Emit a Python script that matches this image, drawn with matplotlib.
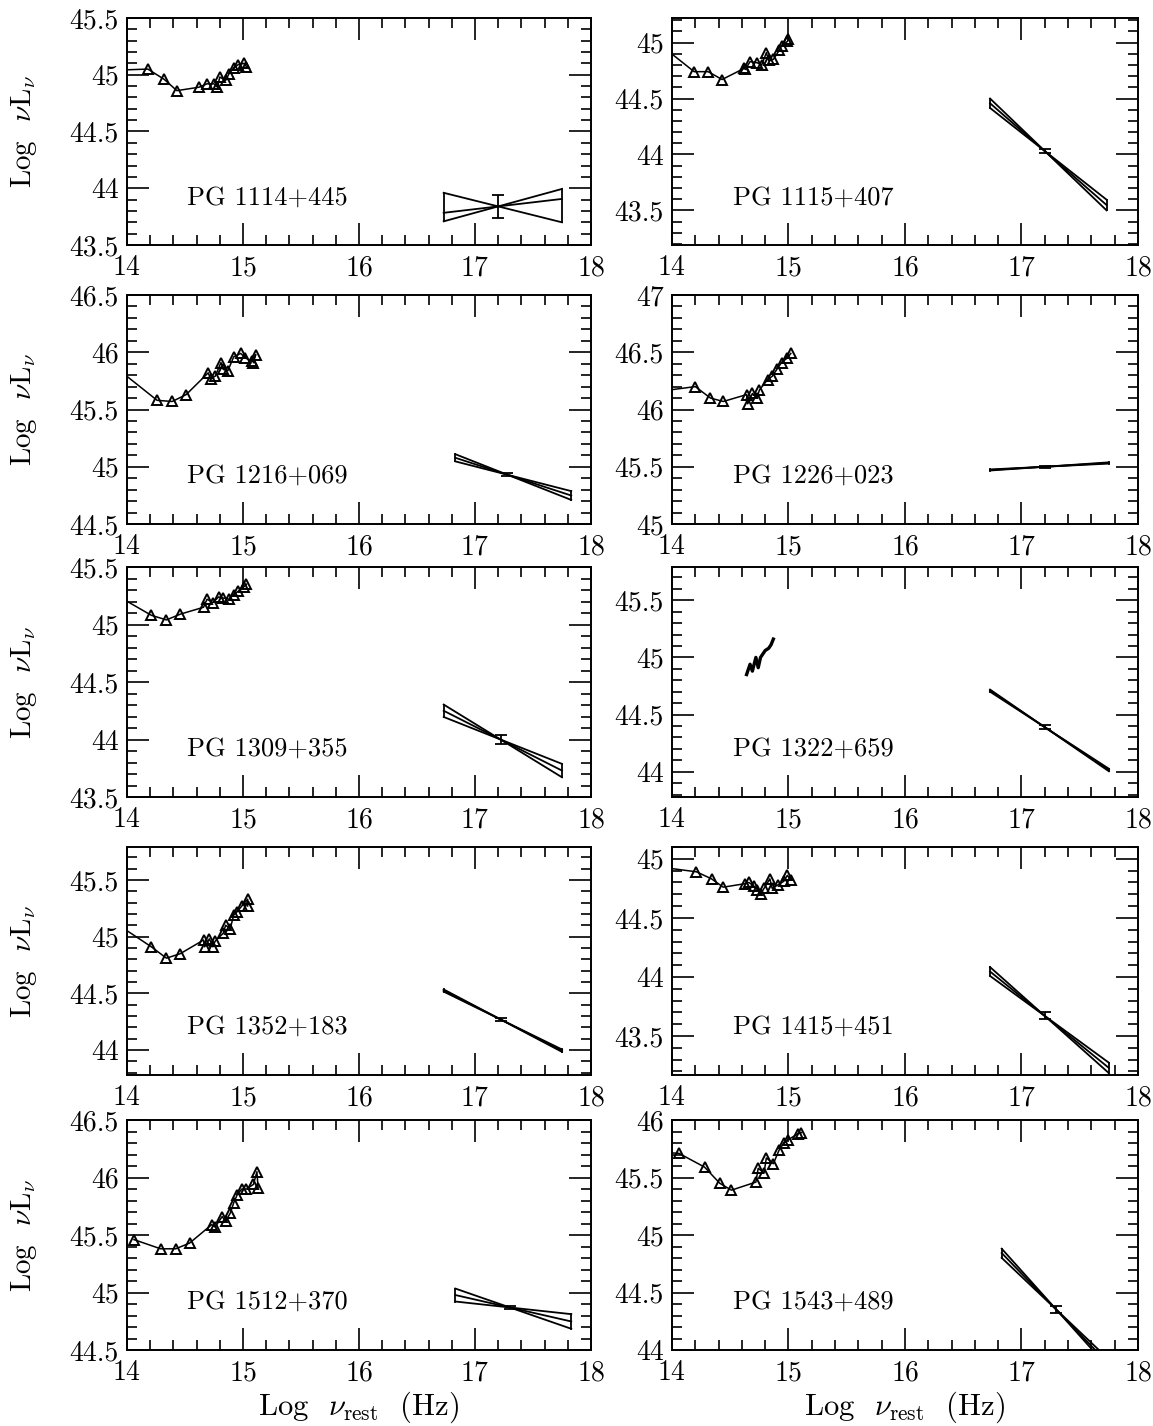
import numpy as np
import matplotlib
matplotlib.use("Agg")
import matplotlib.pyplot as plt
from matplotlib.ticker import MultipleLocator, FormatStrFormatter

plt.rcParams['font.family'] = ['cmr10', 'DejaVu Serif']
plt.rcParams['mathtext.fontset'] = 'cm'
plt.rcParams['axes.formatter.use_mathtext'] = True

# object names, row by row (left, right)
names = ["PG 1114+445", "PG 1115+407", "PG 1216+069", "PG 1226+023",
         "PG 1309+355", "PG 1322+659", "PG 1352+183", "PG 1415+451",
         "PG 1512+370", "PG 1543+489"]

ylims = [(43.5, 45.5), (43.19, 45.22), (44.5, 46.5), (45.0, 47.0),
         (43.5, 45.5), (43.78, 45.79), (43.78, 45.79), (43.17, 45.1),
         (44.5, 46.5), (44.0, 46.0)]

# optical / IR SED points (log nu, log nuLnu)
sed_x = [
    [13.9, 14.18, 14.32, 14.43, 14.62, 14.69, 14.75, 14.78, 14.80, 14.85, 14.88, 14.92, 14.96, 15.01, 15.03],
    [13.9, 14.19, 14.31, 14.43, 14.62, 14.63, 14.67, 14.73, 14.77, 14.81, 14.83, 14.87, 14.92, 14.94, 14.99, 15.0],
    [13.9, 14.26, 14.39, 14.51, 14.70, 14.72, 14.76, 14.81, 14.83, 14.87, 14.92, 14.98, 15.02, 15.08, 15.11, 15.09],
    [13.9, 14.20, 14.33, 14.44, 14.64, 14.65, 14.69, 14.73, 14.75, 14.82, 14.86, 14.90, 14.94, 14.99, 15.02],
    [13.9, 14.21, 14.34, 14.46, 14.66, 14.69, 14.74, 14.79, 14.83, 14.88, 14.92, 14.96, 15.01, 15.03],
    [14.64, 14.67, 14.69, 14.72, 14.74, 14.76, 14.78, 14.80, 14.83, 14.85, 14.87],
    [13.9, 14.21, 14.34, 14.46, 14.66, 14.67, 14.71, 14.74, 14.76, 14.83, 14.85, 14.89, 14.92, 14.95, 14.99, 15.04, 15.04],
    [13.9, 14.21, 14.34, 14.44, 14.63, 14.66, 14.70, 14.73, 14.76, 14.79, 14.84, 14.86, 14.91, 14.96, 14.99, 15.02],
    [14.06, 14.29, 14.42, 14.54, 14.73, 14.76, 14.82, 14.85, 14.89, 14.92, 14.95, 14.99, 15.03, 15.09, 15.12, 15.13],
    [13.9, 14.06, 14.28, 14.41, 14.51, 14.72, 14.74, 14.79, 14.81, 14.87, 14.92, 14.96, 15.0, 15.08, 15.11],
]
sed_y = [
    [45.04, 45.05, 44.96, 44.86, 44.89, 44.92, 44.92, 44.89, 44.98, 44.95, 45.01, 45.06, 45.09, 45.10, 45.07],
    [44.98, 44.74, 44.74, 44.67, 44.77, 44.76, 44.83, 44.82, 44.80, 44.91, 44.84, 44.85, 44.93, 44.97, 45.01, 45.03],
    [45.87, 45.58, 45.57, 45.63, 45.82, 45.77, 45.79, 45.91, 45.85, 45.84, 45.96, 45.99, 45.95, 45.92, 45.98, 45.91],
    [46.16, 46.20, 46.10, 46.07, 46.13, 46.05, 46.14, 46.10, 46.17, 46.26, 46.29, 46.35, 46.41, 46.45, 46.49],
    [45.26, 45.08, 45.04, 45.09, 45.15, 45.22, 45.19, 45.24, 45.23, 45.22, 45.26, 45.29, 45.33, 45.35],
    [44.85, 44.94, 44.88, 45.00, 44.91, 45.00, 45.03, 45.06, 45.08, 45.11, 45.16],
    [45.12, 44.91, 44.81, 44.85, 44.97, 44.91, 44.98, 44.91, 44.96, 45.03, 45.10, 45.07, 45.19, 45.22, 45.27, 45.33, 45.27],
    [44.93, 44.89, 44.83, 44.76, 44.79, 44.80, 44.77, 44.74, 44.70, 44.75, 44.83, 44.75, 44.78, 44.81, 44.86, 44.82],
    [45.46, 45.38, 45.38, 45.43, 45.59, 45.57, 45.66, 45.62, 45.69, 45.78, 45.85, 45.90, 45.90, 45.94, 46.05, 45.91],
    [45.72, 45.71, 45.59, 45.45, 45.39, 45.46, 45.58, 45.54, 45.67, 45.62, 45.74, 45.80, 45.83, 45.88, 45.89],
]

# X-ray power law bow-ties: range, pivot, best slope and slope limits, pivot error
bt_x0 = [16.73, 16.73, 16.83, 16.73, 16.73, 16.73, 16.73, 16.73, 16.83, 16.83]
bt_x1 = [17.75, 17.73, 17.83, 17.75, 17.75, 17.75, 17.75, 17.75, 17.83, 17.83]
piv_x = [17.20, 17.20, 17.28, 17.20, 17.22, 17.20, 17.22, 17.20, 17.30, 17.30]
piv_y = [43.84, 44.03, 44.93, 45.50, 44.00, 44.39, 44.27, 43.67, 44.87, 44.35]
slope = [0.12, -0.91, -0.33, 0.06, -0.51, -0.68, -0.52, -0.80, -0.23, -1.05]
slope_lo = [-0.255, -1.00, -0.40, 0.05, -0.62, -0.70, -0.54, -0.88, -0.35, -1.13]
slope_hi = [0.28, -0.82, -0.26, 0.07, -0.40, -0.66, -0.50, -0.72, -0.11, -0.96]
piv_err = [0.10, 0.02, 0.015, 0.01, 0.04, 0.02, 0.015, 0.03, 0.015, 0.03]

fig = plt.figure(figsize=(11.53, 14.26), dpi=100)
W, H = 1153.0, 1426.0
col_left = [127, 672]
col_w = [464, 466]
row_top = [18, 295, 567, 847, 1120]
row_h = [227, 229, 230, 228, 230]

lw = 1.3
for i in range(10):
    r, c = i // 2, i % 2
    ax = fig.add_axes([col_left[c] / W, 1 - (row_top[r] + row_h[r]) / H,
                       col_w[c] / W, row_h[r] / H])
    ax.plot(sed_x[i], sed_y[i], '-', color='k', lw=1.1)
    if i != 5:
        ax.plot(sed_x[i], sed_y[i], '^', mfc='none', mec='k', ms=7, mew=1.4)
    else:
        ax.plot(sed_x[i], sed_y[i], '-', color='k', lw=2.4)

    # bow-tie
    xs = np.array([bt_x0[i], bt_x1[i]])
    y_mid = piv_y[i] + slope[i] * (xs - piv_x[i])
    y_a = piv_y[i] + slope_lo[i] * (xs - piv_x[i])
    y_b = piv_y[i] + slope_hi[i] * (xs - piv_x[i])
    ax.plot(xs, y_mid, color='k', lw=lw)
    ax.plot(xs, y_a, color='k', lw=lw)
    ax.plot(xs, y_b, color='k', lw=lw)
    ax.plot([xs[0], xs[0]], [y_a[0], y_b[0]], color='k', lw=lw)
    ax.plot([xs[1], xs[1]], [y_a[1], y_b[1]], color='k', lw=lw)
    ax.errorbar([piv_x[i]], [piv_y[i]], yerr=[piv_err[i]], fmt='none',
                ecolor='k', elinewidth=lw, capsize=4, capthick=lw)

    ax.set_xlim(14, 18)
    ax.set_ylim(*ylims[i])
    ax.xaxis.set_major_locator(MultipleLocator(1))
    ax.xaxis.set_minor_locator(MultipleLocator(0.2))
    ax.yaxis.set_major_locator(MultipleLocator(0.5))
    ax.yaxis.set_minor_locator(MultipleLocator(0.1))
    ax.yaxis.set_major_formatter(FormatStrFormatter('%g'))
    ax.tick_params(which='both', direction='in', top=True, right=True, width=1.2)
    ax.tick_params(which='major', length=16, labelsize=20)
    ax.tick_params(axis='x', which='major', pad=7)
    ax.tick_params(axis='y', which='major', pad=6)
    ax.tick_params(which='minor', length=7)
    for s in ax.spines.values():
        s.set_linewidth(1.4)

    ax.text(0.13, 0.21, names[i], transform=ax.transAxes, fontsize=19,
            ha='left', va='center')
    if c == 0:
        ax.set_ylabel(r'Log  $\nu$L$_\nu$', fontsize=21)
        ax.yaxis.set_label_coords(-0.19, 0.5)
    if r == 4:
        ax.set_xlabel(r'Log  $\nu_{\rm rest}$  (Hz)', fontsize=22)
        ax.xaxis.set_label_coords(0.5, -0.17)

fig.savefig("out.png", dpi=100)
